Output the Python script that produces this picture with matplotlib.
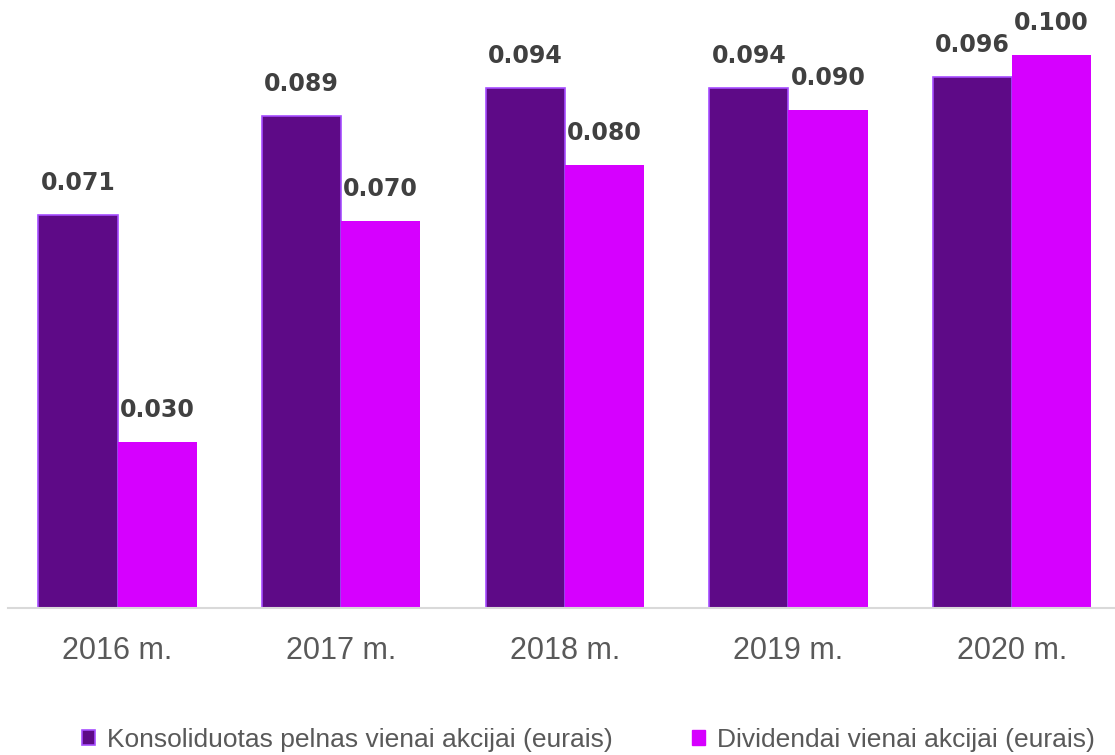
import matplotlib.pyplot as plt
import numpy as np
from matplotlib.patches import Patch

years = ['2016 m.', '2017 m.', '2018 m.', '2019 m.', '2020 m.']
eps = [0.071, 0.089, 0.094, 0.094, 0.096]
dividends = [0.030, 0.070, 0.080, 0.090, 0.100]
labels = ['Konsoliduotas pelnas vienai akcijai (eurais)', 'Dividendai vienai akcijai (eurais)']

purple = '#5E0A87'
magenta = '#D600FF'
edge = '#A64DFF'

fig = plt.figure(figsize=(11.15, 7.55), dpi=100)
ax = fig.add_axes([8 / 1115, 147 / 755, 1 - 8 / 1115, 608 / 755])

x = np.arange(len(years))
w = 0.354
b1 = ax.bar(x - w / 2, eps, w, color=purple, edgecolor=edge, linewidth=1.2)
b2 = ax.bar(x + w / 2, dividends, w, color=magenta, edgecolor=magenta, linewidth=0)

# value labels above each bar
for bars, vals in ((b1, eps), (b2, dividends)):
    for r, v in zip(bars, vals):
        ax.annotate(f'{v:.3f}', (r.get_x() + r.get_width() / 2, v),
                    xytext=(0, 20), textcoords='offset pixels',
                    ha='center', va='bottom', fontsize=17, fontweight='bold',
                    color='#404040')

ax.set_xlim(-0.49, 4.46)
ax.set_ylim(0, 0.1099)
ax.set_xticks(x)
ax.set_xticklabels(years, fontsize=22, color='#595959', family='Liberation Sans')
ax.tick_params(axis='x', length=0, pad=20)
ax.set_yticks([])
for s in ['top', 'right', 'left']:
    ax.spines[s].set_visible(False)
ax.spines['bottom'].set_color('#D9D9D9')
ax.spines['bottom'].set_linewidth(1.5)

handles = [Patch(facecolor=purple, edgecolor=edge, linewidth=1.2),
           Patch(facecolor=magenta, edgecolor=magenta)]
fig.legend(handles, labels, loc='center', bbox_to_anchor=(0.528, 0.02), ncol=2,
           frameon=False, handlelength=0.5, handleheight=0.5, handletextpad=0.45,
           columnspacing=3.0, prop={'family': 'Liberation Sans', 'size': 19},
           labelcolor='#595959')

fig.savefig('out.png', dpi=100)
